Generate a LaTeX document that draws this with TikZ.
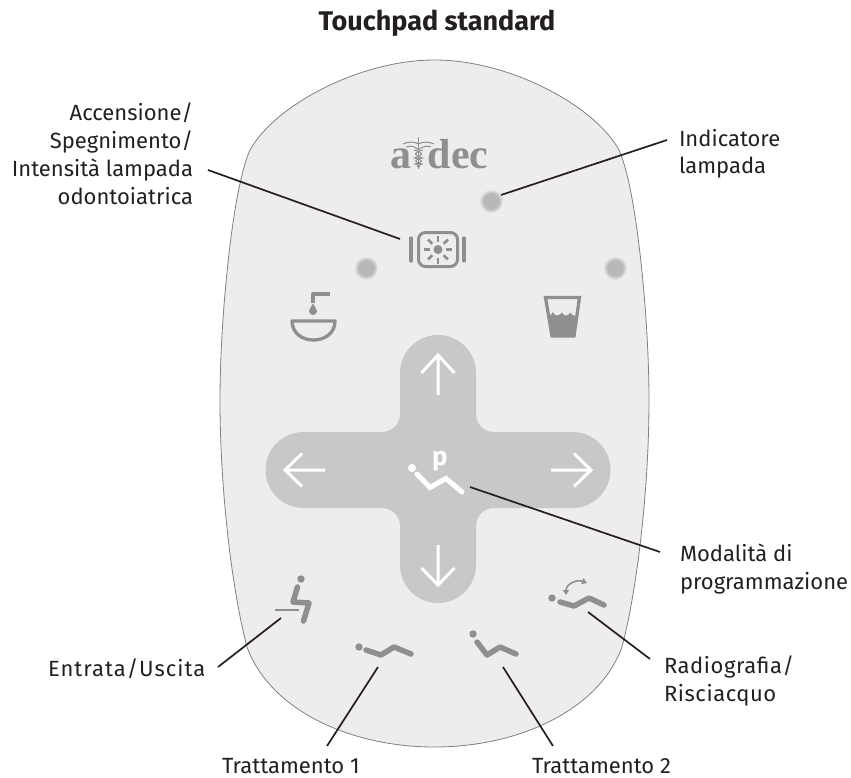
\documentclass[tikz,border=0pt]{standalone}
\usepackage{fontspec}
\setmainfont{Fira Sans}
\newfontfamily\logofont{Liberation Serif}
\newfontfamily\widefont[LetterSpace=4.5]{Fira Sans}
\newfontfamily\semiwidefont[LetterSpace=2.5]{Fira Sans}
\usetikzlibrary{arrows.meta}
\definecolor{padbg}{HTML}{EEEDEC}
\definecolor{padedge}{HTML}{808080}
\definecolor{crossfill}{HTML}{C8C8C8}
\definecolor{icon}{HTML}{8F8F8F}
\definecolor{ledc}{HTML}{B8B8B8}
\definecolor{ink}{HTML}{231F20}
\pgfdeclareradialshading{ledshade}{\pgfpointorigin}{color(0bp)=(ledc); color(16bp)=(ledc); color(25bp)=(padbg)}
\tikzset{
  x=1pt,y=-1pt,
  lead/.style={draw=ink,line width=1.7pt},
  lab/.style={text=ink,inner sep=0pt,outer sep=0pt,font=\fontsize{22}{27.8}\selectfont},
  chair/.style={draw=icon,line width=5.5pt,line cap=round,line join=round},
  wchair/.style={draw=white,line width=5pt,line cap=round,line join=miter},
  wdot/.style={fill=white},
  idot/.style={fill=icon},
  warrow/.style={draw=white,line width=3pt},
  ledlamp/.style={shading=ledshade},
  ico/.style={draw=icon,line width=3.3pt},
}
\begin{document}
\begin{tikzpicture}
\useasboundingbox (0,0) rectangle (851,778);
% pad
\draw[fill=padbg,draw=padedge,line width=0.8pt]
 (434.5,60) .. controls (360,60) and (275,105) .. (250,150)
 .. controls (232,190) and (220,320) .. (220,400)
 .. controls (220,490) and (232,590) .. (247,647)
 .. controls (270,710) and (350,747) .. (434.5,747)
 .. controls (519,747) and (599,710) .. (622,647)
 .. controls (637,590) and (649,490) .. (649,400)
 .. controls (649,320) and (637,190) .. (619,150)
 .. controls (594,105) and (509,60) .. cycle;
% cross
\fill[crossfill]
 (400,373) .. controls (400,352) and (417,335) .. (438,335)
 .. controls (459,335) and (476,352) .. (476,373) -- (476,414)
 .. controls (476,424) and (484,432) .. (494,432) -- (572.5,432)
 .. controls (593.5,432) and (610.5,449) .. (610.5,470)
 .. controls (610.5,491) and (593.5,508) .. (572.5,508) -- (494,508)
 .. controls (484,508) and (476,516) .. (476,526) -- (476,565)
 .. controls (476,586) and (459,603) .. (438,603)
 .. controls (417,603) and (400,586) .. (400,565) -- (400,526)
 .. controls (400,516) and (392,508) .. (382,508) -- (303.5,508)
 .. controls (282.5,508) and (265.5,491) .. (265.5,470)
 .. controls (265.5,449) and (282.5,432) .. (303.5,432) -- (382,432)
 .. controls (392,432) and (400,424) .. (400,414) -- cycle;
% arrows in the cross
\draw[warrow] (438,395) -- (438,355) (421.5,373) -- (438,355) -- (454.5,373);
\draw[warrow] (438,545) -- (438,585) (421.5,568) -- (438,585) -- (454.5,568);
\draw[warrow] (325,470) -- (285,470) (302,453.5) -- (285,470) -- (302,486.5);
\draw[warrow] (551,470) -- (591,470) (574,453.5) -- (591,470) -- (574,486.5);
% program icon
\fill[wdot] (412,468) circle[radius=4];
\draw[wchair] (417,474) -- (430,487.5) -- (446,478.5) -- (462,492);
\node[anchor=base,inner sep=0pt,text=white,font=\fontsize{26}{26}\selectfont\bfseries] (ptext) at (440,465) {p};
% LEDs
\path[ledlamp] (491,201) circle[radius=12];
\path[ledlamp] (366,268) circle[radius=12];
\path[ledlamp] (615,268) circle[radius=12];
% logo
\node[anchor=base west,inner sep=0pt,text=icon,font=\logofont\bfseries\fontsize{42}{42}\selectfont] (logoa) at (390,169) {a};
\node[anchor=base west,inner sep=0pt,text=icon,font=\logofont\bfseries\fontsize{42}{42}\selectfont] (logob) at (427.5,169) {dec};
\draw[icon,line width=1.3pt] (418.5,137.5) -- (418.5,169);
\draw[icon,line width=1pt] (403,144) .. controls (410,141) and (415,142) .. (418.5,144) .. controls (422,142) and (427,141) .. (434,144);
\draw[icon,line width=1pt] (406,147) .. controls (412,145) and (415,147) .. (418.5,150) .. controls (422,147) and (425,145) .. (431,147);
\draw[icon,line width=1pt] (414,150) .. controls (424,153) and (424,155) .. (414.5,158) .. controls (424,160) and (423,162) .. (415,164) .. controls (420,166) and (420,167) .. (418.5,168);
\draw[icon,line width=1pt] (423,150) .. controls (413,153) and (413,155) .. (422.5,158) .. controls (413,160) and (414,162) .. (422,164) .. controls (417,166) and (417,167) .. (418.5,168);
% lamp icon
\draw[ico,line cap=round] (411,238) -- (411,261) (464,238) -- (464,261);
\draw[ico,rounded corners=7pt,line width=3pt] (418.5,232.5) rectangle (457.5,266.5);
\fill[icon] (438,249.5) circle[radius=4.5];
\foreach \a in {0,45,...,315}{
  \draw[icon,line width=2.6pt] (438,249.5) ++(\a:8) -- ++(\a:6);
}
% basin
\draw[ico,line join=round] (313,303) -- (313,294) -- (330,294);
\fill[icon] (313,303.5) .. controls (314,307) and (317,308) .. (317,311)
 .. controls (317,313.5) and (315,315) .. (313,315)
 .. controls (311,315) and (309,313.5) .. (309,311)
 .. controls (309,308) and (312,307) .. cycle;
\draw[ico,line join=round] (292,321) -- (335,321)
 .. controls (335,333) and (325,340) .. (313.5,340)
 .. controls (302,340) and (292,333) .. cycle;
% glass
\draw[ico,line join=miter] (545.5,297.5) -- (579.5,297.5) -- (574,336) -- (552,336) -- cycle;
\fill[icon] (548,316) .. controls (550,316) and (552,315) .. (553,312) .. controls (554,316) and (559,317) .. (562,312.5) .. controls (564,317) and (569,316) .. (570,312.5) .. controls (571,315) and (574,316) .. (577,316) -- (574,336) -- (552,336) -- cycle;
% chair icons
\fill[idot] (301,579) circle[radius=3.7];
\draw[chair] (297.5,587) -- (293,602) -- (309,603) -- (303.5,621);
\draw[icon,line width=2.6pt] (275,610) -- (299,610);
\fill[idot] (359,647) circle[radius=3.7];
\draw[chair] (366,650) -- (381,655) -- (394,647) -- (411,654);
\fill[idot] (473,634) circle[radius=3.7];
\draw[chair] (477,642) -- (487,655) -- (500,647) -- (516,654);
\fill[idot] (552,598) circle[radius=3.7];
\draw[chair] (560,602) -- (574,606) -- (589,598) -- (604,605);
\draw[icon,line width=1.6pt,{Triangle[length=5pt,width=6pt]}-{Triangle[length=5pt,width=6pt]}] (566,595) .. controls (566,584) and (577,579) .. (587,583);
% labels
\node[anchor=base,inner sep=0pt,text=ink,font=\fontsize{27}{27}\selectfont\bfseries] (title) at (437,31) {Touchpad standard};
\node[lab,anchor=north east,align=right] (lamplab) at (193,103) {Accensione/\\Spegnimento/\\Intensità lampada\\odontoiatrica};
\node[lab,anchor=north west,align=left] (ledlab) at (679,129) {Indicatore\\lampada};
\node[lab,anchor=north west,align=left] (proglab) at (680,544) {Modalità di\\programmazione};
\node[lab,anchor=north west,align=left,font=\semiwidefont\fontsize{22}{27.8}\selectfont] (rinselab) at (664,656) {Radiografia/\\Risciacquo};
\node[lab,anchor=base west,font=\widefont\fontsize{22}{27.8}\selectfont] (entrylab) at (48,676) {Entrata/Uscita};
\node[lab,anchor=base west] (t1lab) at (222,773) {Trattamento 1};
\node[lab,anchor=base west] (t2lab) at (532,773) {Trattamento 2};
% leader ends
\coordinate (lampA) at (208,170); \coordinate (lampB) at (400,239);
\coordinate (ledA) at (667,140); \coordinate (ledB) at (501,195);
\coordinate (progA) at (470,487); \coordinate (progB) at (660,552);
\coordinate (entryA) at (218,667); \coordinate (entryB) at (281,618);
\coordinate (t1A) at (378,667); \coordinate (t1B) at (327,746);
\coordinate (t2A) at (503,667); \coordinate (t2B) at (553,746);
\coordinate (rinseA) at (588,612); \coordinate (rinseB) at (650,659);
\draw[lead] (lampA) -- (lampB);
\draw[lead] (ledA) -- (ledB);
\draw[lead] (progA) -- (progB);
\draw[lead] (entryA) -- (entryB);
\draw[lead] (t1A) -- (t1B);
\draw[lead] (t2A) -- (t2B);
\draw[lead] (rinseA) -- (rinseB);
\end{tikzpicture}
\end{document}
